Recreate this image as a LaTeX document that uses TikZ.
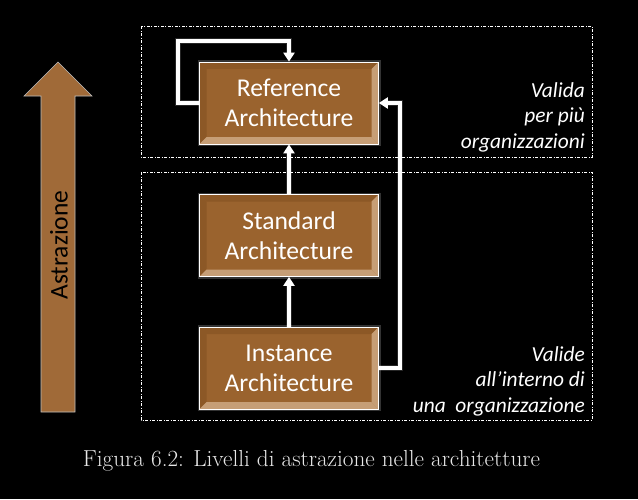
\documentclass[tikz,border=0pt]{standalone}
\usepackage{fontspec}
\newfontfamily\carlito{Carlito}
\usepackage{tikz}
\usetikzlibrary{arrows.meta,positioning,calc}
\definecolor{boxbrown}{RGB}{154,99,46}
\definecolor{bevlight}{RGB}{198,158,118}
\definecolor{bevdark}{RGB}{140,88,38}
\definecolor{arrbrown}{RGB}{160,106,56}
\definecolor{capgray}{RGB}{232,232,232}
\begin{document}
\begin{tikzpicture}[x=1pt,y=-1pt,
  level box/.style={draw=white,line width=0.8pt,fill=boxbrown,minimum width=179pt,minimum height=82pt,inner sep=0pt,align=center,text=white,
    font=\carlito\fontsize{25.6}{30}\selectfont,
    preaction={draw=white,line width=4pt,opacity=0.2},
    path picture={
      \fill[bevdark] (path picture bounding box.north west) -- (path picture bounding box.north east) -- ++(-7pt,-7pt) -- ([shift={(7pt,-7pt)}]path picture bounding box.north west) -- cycle;
      \fill[bevdark] (path picture bounding box.north west) -- (path picture bounding box.south west) -- ++(7pt,7pt) -- ([shift={(7pt,-7pt)}]path picture bounding box.north west) -- cycle;
      \fill[bevlight] (path picture bounding box.south west) -- (path picture bounding box.south east) -- ++(-7pt,7pt) -- ([shift={(7pt,7pt)}]path picture bounding box.south west) -- cycle;
      \fill[bevlight] (path picture bounding box.south east) -- (path picture bounding box.north east) -- ++(-7pt,-7pt) -- ([shift={(-7pt,7pt)}]path picture bounding box.south east) -- cycle;
    }},
  note/.style={align=right,text=white,inner sep=0pt,font=\carlito\itshape\fontsize{21.4}{25.5}\selectfont},
  link/.style={draw=white,line width=3.2pt,-{Triangle[length=9pt,width=11pt]},preaction={draw=white,line width=6pt,opacity=0.15}},
  zone/.style={draw=white,line width=0.8pt,dash pattern=on 3pt off 1.5pt on 1pt off 1.5pt}]
\useasboundingbox[fill=black] (0,0) rectangle (638,499);
% abstraction arrow
\filldraw[fill=arrbrown,draw=white!75!black,line width=0.6pt] (41,412) -- (75,412) -- (75,96) -- (92,96) -- (58,62) -- (24,96) -- (41,96) -- cycle;
\node[rotate=90,font=\carlito\fontsize{25.5}{30}\selectfont] (astr) at (59,245) {Astrazione};
% zones
\draw[zone] (141,26) rectangle (592,157);
\draw[zone] (141,172) rectangle (592,420);
\begin{scope}
\node[level box] (ref) at (289,103) {Reference\\Architecture};
\node[level box] (std) at (289,235.5) {Standard\\Architecture};
\node[level box] (inst) at (289,368) {Instance\\Architecture};
\node[note,anchor=north east] (top) at (585,82) {Valida\\per più\\organizzazioni};
\node[note,anchor=north east] (bot) at (585,346) {Valide\\all’interno di\\una\ \ organizzazione};
\end{scope}
\coordinate (loop) at (178,41);
\coordinate (back) at (400,235);
\begin{scope}
\draw[link] (ref.west) -| (loop) -| (ref.north);
\draw[link] (std.north) -- (ref.south);
\draw[link] (inst.north) -- (std.south);
\draw[link] (inst.east) -| (back) |- (ref.east);
\end{scope}
\node[text=capgray,font=\fontsize{23.2}{27}\selectfont] (cap) at (311.5,461) {Figura 6.2: Livelli di astrazione nelle architetture};
\end{tikzpicture}
\end{document}
